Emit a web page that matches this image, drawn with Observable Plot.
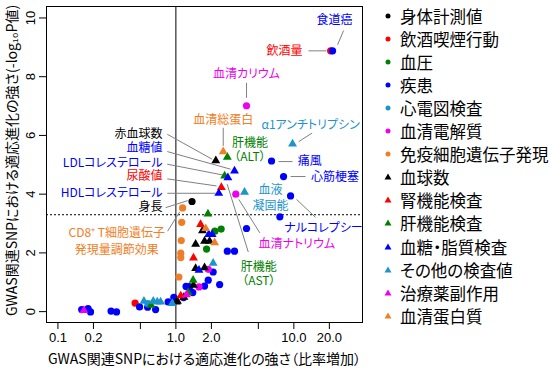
<!DOCTYPE html>
<html><head><meta charset="utf-8">
<script src="https://cdn.jsdelivr.net/npm/d3@7"></script>
<script src="https://cdn.jsdelivr.net/npm/@observablehq/plot@0.6"></script>
<style>
body{margin:0;background:#fff;}
#wrap{position:relative;width:550px;height:369px;overflow:hidden;}
#wrap text{font-feature-settings:"palt";}
.leg{position:absolute;left:380px;height:24px;display:flex;align-items:center;font-family:"Noto Sans CJK JP",sans-serif;font-size:16.5px;color:#000;font-feature-settings:"palt";white-space:nowrap;}
.leg svg{width:16px;height:12px;margin-right:4px;}
</style></head><body><div id="wrap"></div>
<script>
// categories (circles = phenotypes, triangles = lab tests)
const circleCats = ["身体計測値","飲酒喫煙行動","血圧","疾患","心電図検査","血清電解質","免疫細胞遺伝子発現"];
const triangleCats = ["血球数","腎機能検査","肝機能検査","血糖・脂質検査","その他の検査値","治療薬副作用","血清蛋白質"];
const catColors = ["#000000","#FF0000","#008000","#0000FF","#1C95CD","#EE00EE","#F07E26"];

// points: ratio increase (x), -log10 P (y), category
const pointCat = [
 "身体計測値",
 "飲酒喫煙行動","飲酒喫煙行動",
 "血圧","血圧","血圧",
 "疾患","疾患","疾患","疾患","疾患","疾患","疾患","疾患","疾患","疾患","疾患","疾患","疾患","疾患","疾患","疾患","疾患","疾患","疾患","疾患","疾患","疾患","疾患","疾患","疾患","疾患","疾患",
 "心電図検査",
 "血清電解質","血清電解質","血清電解質","血清電解質",
 "免疫細胞遺伝子発現","免疫細胞遺伝子発現","免疫細胞遺伝子発現","免疫細胞遺伝子発現","免疫細胞遺伝子発現","免疫細胞遺伝子発現",
 "血球数","血球数","血球数","血球数","血球数","血球数","血球数","血球数","血球数","血球数","血球数",
 "腎機能検査","腎機能検査","腎機能検査","腎機能検査",
 "肝機能検査","肝機能検査","肝機能検査","肝機能検査","肝機能検査","肝機能検査",
 "血糖・脂質検査","血糖・脂質検査","血糖・脂質検査","血糖・脂質検査","血糖・脂質検査","血糖・脂質検査",
 "その他の検査値","その他の検査値","その他の検査値","その他の検査値","その他の検査値","その他の検査値","その他の検査値","その他の検査値",
 "治療薬副作用","治療薬副作用",
 "血清蛋白質","血清蛋白質","血清蛋白質"
];
const pointX = [
 1.37,
 20.5,0.451,
 2.14,2.42,1.82,
 21.3,6.47,8.18,9.38,7.61,3.97,2.73,3.14,2.07,1.88,2.35,1.22,1.30,1.75,1.33,1.39,1.16,0.96,0.86,0.159,0.180,0.189,0.282,0.314,0.492,0.576,0.673,
 0.579,
 3.97,3.22,1.88,1.57,
 1.14,1.12,1.11,1.10,1.10,1.06,
 2.18,1.68,1.47,1.75,1.93,1.47,1.75,1.41,1.17,1.03,1.01,
 2.43,1.62,1.41,1.10,
 2.73,2.59,1.87,1.40,1.27,0.617,
 3.14,2.76,2.31,1.90,2.03,1.57,
 9.75,3.82,2.07,0.93,0.536,0.643,0.695,0.742,
 0.166,1.23,
 2.52,1.79,2.13
];
const pointY = [
 3.75,
 8.88,0.29,
 2.74,2.81,2.13,
 8.88,5.13,4.60,3.94,3.23,2.83,2.06,2.06,1.35,1.07,0.92,0.86,0.85,0.87,0.69,0.65,0.48,0.49,0.33,0.07,0.10,-0.01,0.02,-0.01,0.16,0.15,0.07,
 0.27,
 7.01,4.00,1.44,0.84,
 3.53,3.04,2.42,1.99,1.84,1.18,
 5.14,2.76,2.30,2.40,2.40,1.47,1.50,0.90,0.49,0.36,0.33,
 4.23,2.97,1.83,0.54,
 5.26,4.62,3.33,1.07,0.65,0.22,
 4.79,4.56,4.03,2.63,2.63,1.41,
 5.71,4.07,1.65,0.28,0.36,0.36,0.33,0.33,
 0.04,0.58,
 5.45,2.83,2.35
];

// annotation labels
const labelText = ["食道癌","飲酒量","血清カリウム","血清総蛋白","肝機能\n（ALT）","α1アンチトリプシン","痛風","心筋梗塞","ナルコレプシー","血液\n凝固能","血清ナトリウム","肝機能\n（AST）","赤血球数","血糖値","LDLコレステロール","尿酸値","HDLコレステロール","身長","CD8⁺ T細胞遺伝子\n発現量調節効果"];
const labelX = [22.1,11.85,3.97,2.52,4.24,13.86,13.67,22.36,17.85,6.35,10.6,5.05,0.771,0.771,0.771,0.771,0.771,0.771,0.315];
const labelY = [9.91,8.88,8.10,6.53,5.505,6.36,5.11,4.59,2.83,3.92,2.30,1.307,6.04,5.57,5.06,4.60,4.04,3.55,2.43];
const labelCat = ["疾患","飲酒喫煙行動","血清電解質","血清蛋白質","肝機能検査","その他の検査値","疾患","疾患","疾患","その他の検査値","血清電解質","肝機能検査","血球数","血糖・脂質検査","血糖・脂質検査","腎機能検査","血糖・脂質検査","身体計測値","免疫細胞遺伝子発現"];
const labelAnchor = ["middle","end","middle","middle","middle","middle","middle","middle","middle","middle","middle","middle","end","end","end","end","end","end","middle"];

// leader lines (data coordinates)
const leaderX1 = [13.3,23.5,3.97,2.52,11.0,7.42,9.38,10.54,3.42,2.72,0.845,0.845,0.845,0.845,0.845,0.818,0.851];
const leaderY1 = [8.88,9.09,7.79,6.26,5.79,5.11,4.60,3.82,3.82,4.34,6.04,5.45,5.02,4.52,4.03,3.54,2.74];
const leaderX2 = [18.9,26.4,3.97,2.52,14.3,9.75,12.56,15.27,5.15,4.11,2.03,2.91,2.52,2.21,2.17,1.26,1.075];
const leaderY2 = [8.88,9.57,7.28,5.64,6.08,5.11,4.60,3.21,2.68,2.03,5.19,4.85,4.65,4.28,4.03,3.78,3.39];

const xTicks = [0.1,0.2,0.5,1,2,5,10,20];
const yTicks = [0,2,4,6,8,10];
const threshold = 3.3;

const points = pointCat.map((c,i)=>({cat:c,x:pointX[i],y:pointY[i]}));
const labels = labelText.map((t,i)=>({text:t,x:labelX[i],y:labelY[i],cat:labelCat[i],anchor:labelAnchor[i]}));
const leaders = leaderX1.map((v,i)=>({x1:v,y1:leaderY1[i],x2:leaderX2[i],y2:leaderY2[i]}));
const JP = "Noto Sans CJK JP, sans-serif";

// line spacing for two-line labels (ems)
function lineHeightOf(t){
  if (t.startsWith("肝機能")) return 1.17;
  if (t.startsWith("血液")) return 1.38;
  if (t.startsWith("CD8")) return 1.42;
  return 1;
}
const labelMarks = labels.map(d => Plot.text([d],{x:"x",y:"y",text:"text",fill:"cat",textAnchor:d.anchor,lineAnchor:"middle",lineHeight:lineHeightOf(d.text),fontSize:12,fontFamily:JP}));

const chart = Plot.plot({
  width:550, height:369,
  marginLeft:46, marginRight:188, marginTop:6, marginBottom:47,
  x:{type:"log", domain:[0.080,38.2]},
  y:{domain:[-0.37,10.39]},
  color:{domain:[...circleCats,...triangleCats], range:[...catColors,...catColors]},
  style:{fontFamily:"Liberation Sans, Arial, sans-serif", fontSize:"13px", background:"white", color:"black", overflow:"visible"},
  marks:[
    Plot.ruleX([1],{stroke:"black"}),
    Plot.ruleY([threshold],{stroke:"black", strokeDasharray:"2,2"}),
    Plot.axisX({ticks:xTicks, tickFormat:d=>d.toFixed(1), tickSize:7, tickPadding:3, label:null, fontSize:13}),
    Plot.axisY({ticks:yTicks, tickSize:7, tickFormat:()=>"", label:null}),
    Plot.text(yTicks,{y:d=>d, text:d=>String(d), frameAnchor:"left", dx:-16, rotate:-90, textAnchor:"middle", lineAnchor:"middle", fontSize:13}),
    Plot.link(leaders,{x1:"x1",y1:"y1",x2:"x2",y2:"y2", stroke:"#808080", strokeWidth:1}),
    Plot.dot(points.filter(d=>circleCats.includes(d.cat)),{x:"x",y:"y",fill:"cat",r:3.6,symbol:"circle"}),
    Plot.dot(points.filter(d=>triangleCats.includes(d.cat)),{x:"x",y:"y",fill:"cat",r:3.3,symbol:"triangle"}),
    ...labelMarks,
    Plot.text(["GWAS関連SNPにおける適応進化の強さ（比率増加）"],{text:d=>d, frameAnchor:"bottom", dy:37, textAnchor:"middle", lineAnchor:"middle", fontSize:14, fontFamily:JP}),
    Plot.text(["GWAS関連SNPにおける適応進化の強さ(-log₁₀P値)"],{text:d=>d, frameAnchor:"left", dx:-33.5, dy:-4, rotate:-90, textAnchor:"middle", lineAnchor:"middle", fontSize:14, fontFamily:JP}),
    Plot.frame({stroke:"black"})
  ]
});
const wrap = document.getElementById("wrap");
wrap.appendChild(chart);

// legend
const legendCats = [...circleCats,...triangleCats];
legendCats.forEach((c,i)=>{
  const div = document.createElement("div");
  div.className = "leg";
  div.style.top = (15.5 + i*23.1 - 12) + "px";
  const col = catColors[i % 7];
  const shape = i < 7
    ? `<circle cx="8" cy="6" r="2.5" fill="${col}"/>`
    : `<path d="M8,2.5 L11.5,8.5 L4.5,8.5 Z" fill="${col}"/>`;
  div.innerHTML = `<svg viewBox="0 0 16 12">${shape}</svg><span>${c}</span>`;
  wrap.appendChild(div);
});
</script></body></html>
